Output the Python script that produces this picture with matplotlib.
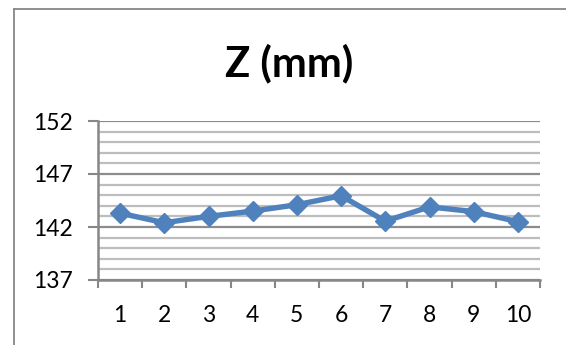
import matplotlib
matplotlib.use("Agg")
import matplotlib.pyplot as plt
from matplotlib.lines import Line2D
from matplotlib.ticker import FixedLocator

plt.rcParams['font.family'] = ['Lato', 'DejaVu Sans']

medida = [1, 2, 3, 4, 5, 6, 7, 8, 9, 10]
z_mm = [143.3, 142.4, 143.0, 143.5, 144.1, 144.95, 142.55, 143.9, 143.45, 142.5]
y_principais = [137, 142, 147, 152]
y_secundarios = list(range(137, 153))

fig = plt.figure(figsize=(5.66, 3.45), dpi=100)

# moldura do grafico
fig.add_artist(Line2D([14/566, 14/566], [0, 1 - 9/345], color='#878787', lw=1.3))
fig.add_artist(Line2D([14/566, 1], [1 - 9/345, 1 - 9/345], color='#878787', lw=1.3))

ax = fig.add_axes([98/566, 65/345, 442/566, 159/345])
ax.plot(medida, z_mm, color='#4F81BD', lw=3.9, marker='D', markersize=10.5,
        markeredgecolor='#4F81BD', zorder=3, clip_on=False)

ax.set_xlim(0.5, 10.5)
ax.set_ylim(137, 152)
ax.yaxis.set_major_locator(FixedLocator(y_principais))
ax.yaxis.set_minor_locator(FixedLocator(y_secundarios))
ax.set_xticks([x + 0.5 for x in range(0, 11)], minor=False)
ax.set_xticklabels([])
ax.set_xticks(medida, minor=True)
ax.set_xticklabels([str(m) for m in medida], minor=True)

ax.grid(which='major', axis='y', color='#8C8C8C', lw=1.6)
ax.grid(which='minor', axis='y', color='#BDBDBD', lw=1.6)
ax.set_axisbelow(True)

for s in ['top', 'right']:
    ax.spines[s].set_visible(False)
for s in ['left', 'bottom']:
    ax.spines[s].set_color('#878787')
    ax.spines[s].set_linewidth(1.8)

ax.tick_params(axis='y', which='major', length=7, width=1.5, color='#878787',
               labelsize=16.5, pad=11)
ax.tick_params(axis='y', which='minor', length=0)
ax.tick_params(axis='x', which='major', length=6, width=1.5, color='#878787')
ax.tick_params(axis='x', which='minor', length=0, labelsize=16.5, pad=18)

fig.text(289/566, 1 - 63/345, 'Z (mm)', ha='center', va='center',
         fontsize=30, fontweight='bold')

fig.savefig('out.png', dpi=100)
